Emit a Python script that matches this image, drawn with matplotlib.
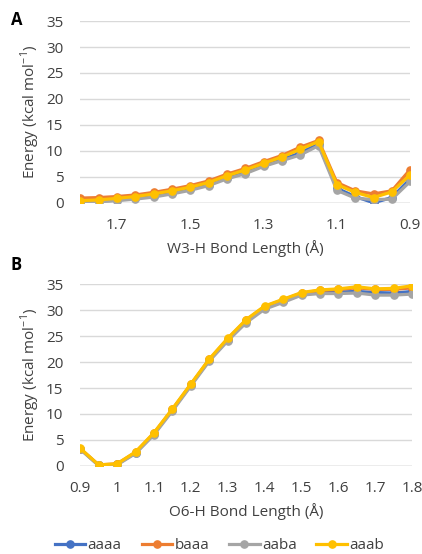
import numpy as np
import matplotlib
matplotlib.use("Agg")
import matplotlib.pyplot as plt
from matplotlib.lines import Line2D

plt.rcParams["font.family"] = ["Open Sans", "DejaVu Sans"]

# ── Data ──────────────────────────────────────────────────────────────────────
SERIES = ["aaaa", "baaa", "aaba", "aaab"]
COLORS = ["#4472C4", "#ED7D31", "#A5A5A5", "#FFC000"]

# Panel A: W3-H scan (long -> short bond)
w3_x = [1.80, 1.75, 1.70, 1.65, 1.60, 1.55, 1.50, 1.45, 1.40, 1.35,
        1.30, 1.25, 1.20, 1.15, 1.10, 1.05, 1.00, 0.95, 0.90]
w3_aaaa = [0.2, 0.3, 0.5, 0.9, 1.3, 1.9, 2.6, 3.5, 4.8, 5.8,
           7.2, 8.3, 9.6, 11.3, 2.8, 1.2, 0.0, 1.0, 4.6]
w3_baaa = [0.9, 1.0, 1.2, 1.5, 2.0, 2.6, 3.3, 4.2, 5.5, 6.6,
           7.9, 9.1, 10.7, 12.0, 3.9, 2.3, 1.7, 2.3, 6.4]
w3_aaba = [0.1, 0.2, 0.4, 0.7, 1.1, 1.7, 2.4, 3.3, 4.6, 5.6,
           7.0, 8.1, 9.2, 11.0, 2.4, 0.9, 0.6, 0.7, 4.1]
w3_aaab = [0.4, 0.55, 0.85, 1.2, 1.7, 2.3, 3.0, 3.9, 5.2, 6.3,
           7.6, 8.8, 10.3, 11.8, 3.5, 2.0, 1.0, 2.1, 5.4]

# Panel B: O6-H scan (short -> long bond)
o6_x = [0.90, 0.95, 1.00, 1.05, 1.10, 1.15, 1.20, 1.25, 1.30, 1.35,
        1.40, 1.45, 1.50, 1.55, 1.60, 1.65, 1.70, 1.75, 1.80]
o6_aaaa = [3.3, 0.1, 0.3, 2.5, 6.2, 10.8, 15.6, 20.4, 24.3, 27.9,
           30.5, 31.8, 33.2, 33.5, 33.5, 33.6, 33.4, 33.3, 33.6]
o6_baaa = [3.3, 0.2, 0.4, 2.6, 6.3, 10.9, 15.7, 20.5, 24.5, 28.1,
           30.7, 32.0, 33.3, 33.8, 34.0, 34.3, 34.0, 34.0, 34.3]
o6_aaba = [3.2, 0.1, 0.2, 2.4, 6.0, 10.6, 15.4, 20.2, 24.1, 27.6,
           30.2, 31.5, 32.9, 33.2, 33.2, 33.3, 32.9, 32.9, 33.1]
o6_aaab = [3.4, 0.2, 0.4, 2.7, 6.4, 11.0, 15.8, 20.6, 24.6, 28.2,
           30.8, 32.1, 33.4, 33.9, 34.1, 34.5, 34.1, 34.2, 34.7]

w3_ticks = [1.7, 1.5, 1.3, 1.1, 0.9]
o6_ticks = [0.9, 1.0, 1.1, 1.2, 1.3, 1.4, 1.5, 1.6, 1.7, 1.8]
o6_ticklabels = ["0.9", "1", "1.1", "1.2", "1.3", "1.4", "1.5", "1.6", "1.7", "1.8"]
y_ticks = [0, 5, 10, 15, 20, 25, 30, 35]

TEXT = "#404040"
GRID = "#D9D9D9"
FS = 11
YLABEL = r"Energy (kcal mol$^{\mathregular{-1}}$)"


def style_axes(ax):
    for s in ax.spines.values():
        s.set_visible(False)
    ax.set_ylim(0, 35)
    ax.set_yticks(y_ticks)
    ax.yaxis.grid(True, color=GRID, linewidth=1.0)
    ax.set_axisbelow(True)
    ax.axhline(0, color="#BFBFBF", linewidth=1.0, zorder=1)
    ax.tick_params(length=0, labelsize=FS, colors=TEXT)
    ax.tick_params(axis="y", pad=12)
    ax.tick_params(axis="x", pad=11)
    ax.set_ylabel(YLABEL, fontsize=FS, color=TEXT, labelpad=3)


def draw_series(ax, x, ys):
    for y, c in zip(ys, COLORS):
        ax.plot(x, y, color=c, linewidth=2.3, marker="o", markersize=5.2,
                solid_joinstyle="round", zorder=3)


fig = plt.figure(figsize=(4.22, 5.54), dpi=100)

# ── Panel A ──
axA = fig.add_axes([0.19, 0.634, 0.782, 0.328])
draw_series(axA, w3_x, [w3_aaaa, w3_baaa, w3_aaba, w3_aaab])
axA.set_xlim(1.8, 0.9)
axA.set_xticks(w3_ticks)
axA.set_xticklabels([f"{t:.1f}" for t in w3_ticks])
style_axes(axA)
axA.set_xlabel("W3-H Bond Length (Å)", fontsize=FS, color=TEXT, labelpad=5)
fig.text(0.026, 0.963, "A", fontsize=12, fontweight="bold", ha="left", va="center")

# ── Panel B ──
axB = fig.add_axes([0.19, 0.159, 0.787, 0.328])
draw_series(axB, o6_x, [o6_aaaa, o6_baaa, o6_aaba, o6_aaab])
axB.set_xlim(0.9, 1.8)
axB.set_xticks(o6_ticks)
axB.set_xticklabels(o6_ticklabels)
style_axes(axB)
axB.set_xlabel("O6-H Bond Length (Å)", fontsize=FS, color=TEXT, labelpad=5)
fig.text(0.026, 0.522, "B", fontsize=12, fontweight="bold", ha="left", va="center")

# ── Shared legend ──
handles = [Line2D([0], [0], color=c, linewidth=2.3, marker="o", markersize=5.2)
           for c in COLORS]
fig.legend(handles, SERIES, loc="center", bbox_to_anchor=(0.52, 0.015),
           ncol=4, frameon=False, fontsize=FS, handlelength=2.0,
           handletextpad=0.15, columnspacing=1.3, labelcolor=TEXT)

fig.savefig("out.png", dpi=100)
